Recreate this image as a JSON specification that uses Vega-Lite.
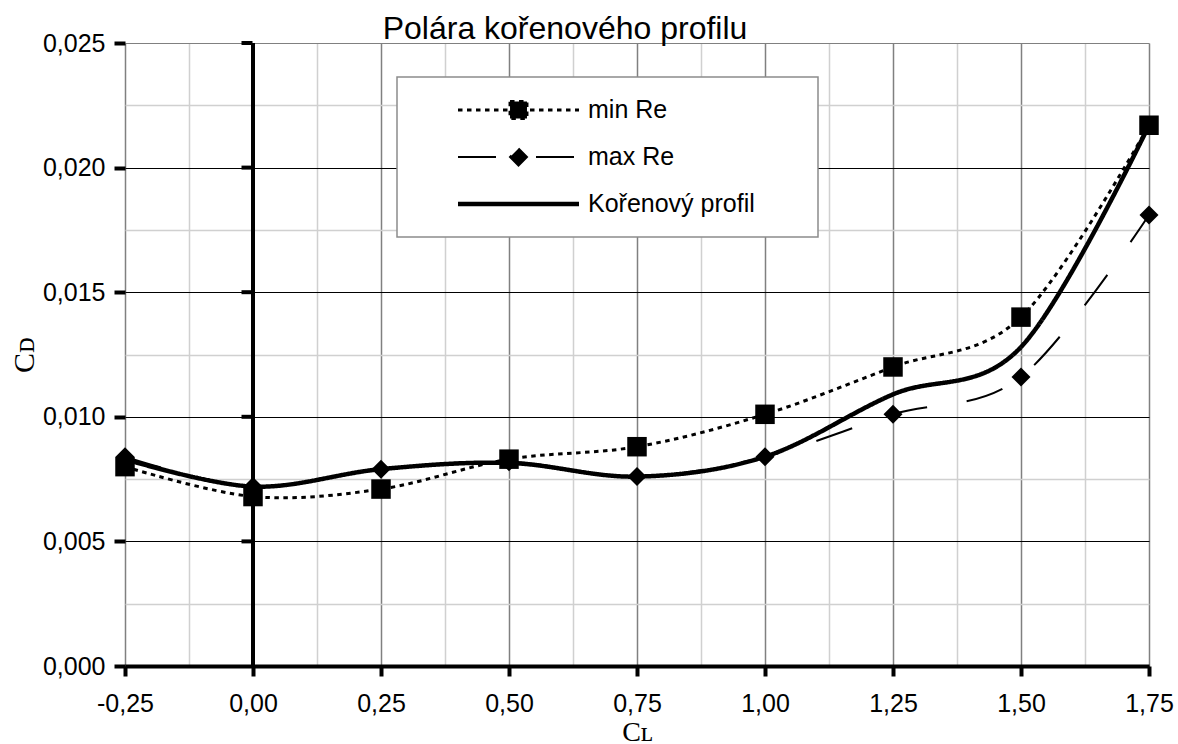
{
  "$schema": "https://vega.github.io/schema/vega-lite/v6.json",
  "autosize": "none",
  "width": 1024,
  "height": 623,
  "padding": {"left": 125, "top": 43, "right": 29, "bottom": 78},
  "background": "white",
  "config": {
    "view": {"stroke": null},
    "locale": {"number": {"decimal": ",", "thousands": "\u00a0", "grouping": [3], "currency": ["", " Kč"], "minus": "-"}},
    "font": "Liberation Sans"
  },
  "title": {
    "text": "Polára kořenového profilu",
    "font": "Liberation Sans",
    "fontSize": 32,
    "fontWeight": "normal",
    "color": "black",
    "anchor": "middle",
    "dx": -72,
    "baseline": "alphabetic",
    "offset": -40
  },
  "datasets": {
    "polar": [
      {"series": "min Re", "cl": -0.25, "cd": 0.0080},
      {"series": "min Re", "cl": 0.0, "cd": 0.0068},
      {"series": "min Re", "cl": 0.25, "cd": 0.0071},
      {"series": "min Re", "cl": 0.5, "cd": 0.0083},
      {"series": "min Re", "cl": 0.75, "cd": 0.0088},
      {"series": "min Re", "cl": 1.0, "cd": 0.0101},
      {"series": "min Re", "cl": 1.25, "cd": 0.0120},
      {"series": "min Re", "cl": 1.5, "cd": 0.0140},
      {"series": "min Re", "cl": 1.75, "cd": 0.0217},
      {"series": "max Re", "cl": -0.25, "cd": 0.0084},
      {"series": "max Re", "cl": 0.0, "cd": 0.0072},
      {"series": "max Re", "cl": 0.25, "cd": 0.0079},
      {"series": "max Re", "cl": 0.5, "cd": 0.0082},
      {"series": "max Re", "cl": 0.75, "cd": 0.0076},
      {"series": "max Re", "cl": 1.0, "cd": 0.0084},
      {"series": "max Re", "cl": 1.25, "cd": 0.0101},
      {"series": "max Re", "cl": 1.5, "cd": 0.0116},
      {"series": "max Re", "cl": 1.75, "cd": 0.0181},
      {"series": "Kořenový profil", "cl": -0.25, "cd": 0.0083},
      {"series": "Kořenový profil", "cl": 0.0, "cd": 0.0072},
      {"series": "Kořenový profil", "cl": 0.25, "cd": 0.0079},
      {"series": "Kořenový profil", "cl": 0.5, "cd": 0.00815},
      {"series": "Kořenový profil", "cl": 0.75, "cd": 0.0076},
      {"series": "Kořenový profil", "cl": 1.0, "cd": 0.0084},
      {"series": "Kořenový profil", "cl": 1.25, "cd": 0.0109},
      {"series": "Kořenový profil", "cl": 1.5, "cd": 0.0128},
      {"series": "Kořenový profil", "cl": 1.75, "cd": 0.0217}
    ],
    "zero": [{"cl": 0}],
    "zeroTicks": [
      {"cl": 0, "cd": 0.005},
      {"cl": 0, "cd": 0.010},
      {"cl": 0, "cd": 0.015},
      {"cl": 0, "cd": 0.020},
      {"cl": 0, "cd": 0.025}
    ]
  },
  "layer": [
    {
      "data": {"name": "zero"},
      "mark": {"type": "rule", "color": "black", "strokeWidth": 4},
      "encoding": {
        "x": {
          "field": "cl",
          "type": "quantitative",
          "scale": {"domain": [-0.25, 1.75], "nice": false, "zero": false},
          "axis": {
            "values": [-0.25, -0.125, 0, 0.125, 0.25, 0.375, 0.5, 0.625, 0.75, 0.875, 1, 1.125, 1.25, 1.375, 1.5, 1.625, 1.75],
            "format": ".2f",
            "labelExpr": "abs(datum.value*4-round(datum.value*4))<0.001 ? datum.label : ''",
            "labelOverlap": false,
            "labelFlush": false,
            "grid": true,
            "gridColor": {"condition": {"test": "abs(datum.value*4-round(datum.value*4))<0.001", "value": "#808080"}, "value": "#d0d0d0"},
            "gridWidth": 1.5,
            "domain": true,
            "domainColor": "black",
            "domainWidth": 4,
            "ticks": true,
            "tickColor": {"condition": {"test": "abs(datum.value*4-round(datum.value*4))<0.001", "value": "black"}, "value": "transparent"},
            "tickWidth": 4,
            "tickSize": 10,
            "labelFont": "Liberation Sans",
            "labelFontSize": 25,
            "labelColor": "black",
            "labelPadding": 15,
            "title": "Cʟ",
            "titleFont": "Liberation Serif",
            "titleFontSize": 28,
            "titleFontWeight": "normal",
            "titleColor": "black",
            "titleBaseline": "alphabetic",
            "titlePadding": 24
          }
        }
      }
    },
    {
      "data": {"name": "zeroTicks"},
      "mark": {"type": "tick", "orient": "horizontal", "color": "black", "size": 11, "thickness": 4, "xOffset": -6, "opacity": 1},
      "encoding": {
        "x": {"field": "cl", "type": "quantitative"},
        "y": {
          "field": "cd",
          "type": "quantitative",
          "scale": {"domain": [0, 0.025], "nice": false, "zero": true},
          "axis": {
            "values": [0, 0.0025, 0.005, 0.0075, 0.01, 0.0125, 0.015, 0.0175, 0.02, 0.0225, 0.025],
            "format": ".3f",
            "labelExpr": "abs(datum.value*200-round(datum.value*200))<0.001 ? datum.label : ''",
            "labelOverlap": false,
            "labelFlush": false,
            "grid": true,
            "gridColor": {"condition": [
              {"test": "datum.value > 0.0249", "value": "#808080"},
              {"test": "abs(datum.value*200-round(datum.value*200))<0.001", "value": "black"}
            ], "value": "#d0d0d0"},
            "gridWidth": {"condition": {"test": "abs(datum.value*200-round(datum.value*200))<0.001", "value": 1}, "value": 1.5},
            "domain": false,
            "ticks": true,
            "tickColor": {"condition": {"test": "abs(datum.value*200-round(datum.value*200))<0.001", "value": "black"}, "value": "transparent"},
            "tickWidth": 4,
            "tickSize": 11,
            "labelFont": "Liberation Sans",
            "labelFontSize": 25,
            "labelColor": "black",
            "labelPadding": 9,
            "title": "Cᴅ",
            "titleFont": "Liberation Serif",
            "titleFontSize": 30,
            "titleFontWeight": "normal",
            "titleColor": "black",
            "titleBaseline": "alphabetic",
            "titlePadding": 9
          }
        }
      }
    },
    {
      "data": {"name": "polar"},
      "mark": {"type": "line", "interpolate": "cardinal", "color": "black", "strokeCap": "butt"},
      "encoding": {
        "x": {"field": "cl", "type": "quantitative"},
        "y": {"field": "cd", "type": "quantitative"},
        "strokeWidth": {
          "condition": [
            {"test": "datum.series === 'min Re'", "value": 3},
            {"test": "datum.series === 'max Re'", "value": 2}
          ],
          "value": 4.5
        },
        "strokeDash": {
          "field": "series",
          "type": "nominal",
          "scale": {"domain": ["min Re", "max Re", "Kořenový profil"], "range": [[4.5, 4.5], [38, 40], [1, 0]]},
          "legend": {
            "title": null,
            "orient": "none",
            "legendX": 272,
            "legendY": 34,
            "padding": 18,
            "clipHeight": 30,
            "rowPadding": 17,
            "symbolSize": 14641,
            "symbolStrokeWidth": 3,
            "symbolStrokeColor": "black",
            "labelFont": "Liberation Sans",
            "labelFontSize": 25,
            "labelColor": "black",
            "labelLimit": 600,
            "strokeColor": "#8c8c8c",
            "fillColor": "white",
            "encode": {
              "entries": {
                "update": {"width": {"value": 385}}
              },
              "symbols": {
                "update": {
                  "x": {"value": 103.5},
                  "shape": {"signal": "datum.value === 'min Re' ? 'M-1,0H1M-0.14,-0.14H0.14V0.14H-0.14Z' : (datum.value === 'max Re' ? 'M-1,0H1M0,-0.14L0.14,0L0,0.14L-0.14,0Z' : 'M-1,0H1')"},
                  "fill": {"signal": "datum.value === 'Kořenový profil' ? 'transparent' : 'black'"},
                  "stroke": {"value": "black"},
                  "strokeCap": {"value": "butt"},
                  "strokeWidth": {"signal": "datum.value === 'min Re' ? 3 : (datum.value === 'max Re' ? 2 : 4.5)"}
                }
              },
              "labels": {
                "update": {"x": {"value": 173}}
              },
              "legend": {"update": {"strokeWidth": {"value": 1.5}}}
            }
          }
        }
      }
    },
    {
      "data": {"name": "polar"},
      "transform": [{"filter": "datum.series !== 'Kořenový profil'"}],
      "mark": {"type": "point", "filled": true, "color": "black", "opacity": 1, "strokeWidth": 0},
      "encoding": {
        "x": {"field": "cl", "type": "quantitative"},
        "y": {"field": "cd", "type": "quantitative"},
        "shape": {
          "field": "series",
          "type": "nominal",
          "scale": {"domain": ["min Re", "max Re"], "range": ["square", "diamond"]},
          "legend": null
        },
        "size": {"condition": {"test": "datum.series === 'min Re'", "value": 380}, "value": 361}
      }
    }
  ]
}
